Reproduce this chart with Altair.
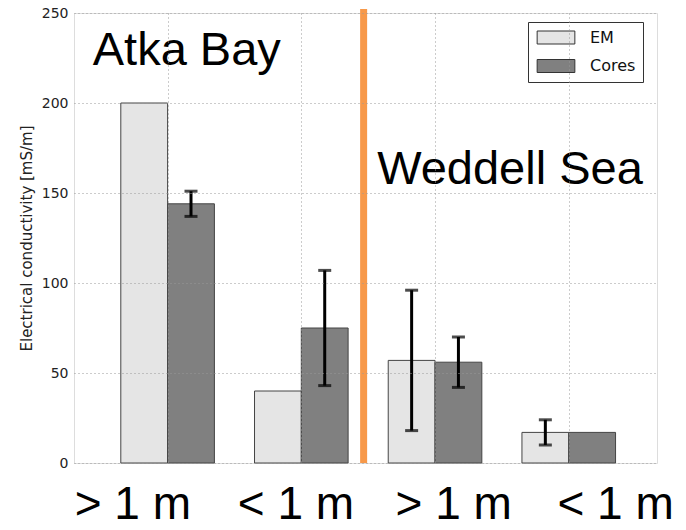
import altair as alt
import pandas as pd

# ---- data ----
group_pos = [0, 1, 2, 3]
group_labels = ["> 1 m", "< 1 m", "> 1 m", "< 1 m"]
label_pos = [-0.26, 0.96, 2.14, 3.35]
em_values = [200, 40, 57, 17]
cores_values = [144, 75, 56, 17]
em_err_lo = [None, None, 18, 10]
em_err_hi = [None, None, 96, 24]
cores_err_lo = [137, 43, 42, None]
cores_err_hi = [151, 107, 70, None]
series = ["EM", "Cores"]
series_colors = ["#e5e5e5", "#808080"]
divider_x = [1.466]
regions = ["Atka Bay", "Weddell Sea"]
region_x = [-0.56, 1.567]
region_y = [221, 155]

bar_w = 0.35

rows = []
for i, g in enumerate(group_pos):
    rows.append({"series": "EM", "x0": g - bar_w, "x1": g, "xc": g - bar_w / 2,
                 "v": em_values[i], "lo": em_err_lo[i], "hi": em_err_hi[i]})
    rows.append({"series": "Cores", "x0": g, "x1": g + bar_w, "xc": g + bar_w / 2,
                 "v": cores_values[i], "lo": cores_err_lo[i], "hi": cores_err_hi[i]})
df = pd.DataFrame(rows)
err = df.dropna(subset=["lo"])

xscale = alt.Scale(domain=[-0.70, 3.66], nice=False, zero=False)
yscale = alt.Scale(domain=[0, 250], nice=False)

base = alt.Chart(df)

bars = base.mark_bar(stroke="#444444", strokeWidth=1, opacity=1).encode(
    x=alt.X("x0:Q", scale=xscale,
            axis=alt.Axis(values=group_pos, labels=False, ticks=False, domain=False,
                          title=None, grid=True, gridDash=[1, 3], gridColor="#999999",
                          gridWidth=1, zindex=1)),
    x2="x1:Q",
    y=alt.Y("v:Q", scale=yscale,
            axis=alt.Axis(values=[0, 50, 100, 150, 200, 250], ticks=False, domain=False,
                          title="Electrical conductivity [mS/m]", titleFont="DejaVu Sans",
                          titleFontSize=15, titleFontWeight="normal", titleColor="#222222",
                          titlePadding=7, labelFont="DejaVu Sans", labelFontSize=14,
                          labelColor="#222222", labelPadding=6, grid=True,
                          gridDash=[1, 3], gridColor="#999999", gridWidth=1, zindex=1)),
    y2=alt.datum(0),
    fill=alt.Fill("series:N", scale=alt.Scale(domain=series, range=series_colors),
                  legend=alt.Legend(title=None, orient="none", legendX=454, legendY=9,
                                    symbolType="M-2.9,-1H2.9V1H-2.9Z", symbolSize=169,
                                    symbolOffset=12.5, labelOffset=26, padding=7.5,
                                    rowPadding=10.5, labelFont="DejaVu Sans",
                                    labelFontSize=16, labelColor="#111111",
                                    symbolStrokeColor="#333333", symbolStrokeWidth=1,
                                    symbolOpacity=1, strokeColor="#333333",
                                    fillColor="white")),
)

err_rule = alt.Chart(err).mark_rule(color="black", strokeWidth=3).encode(
    x=alt.X("xc:Q", scale=xscale), y=alt.Y("lo:Q", scale=yscale), y2="hi:Q")
cap_lo = alt.Chart(err).mark_tick(color="black", thickness=3, size=13,
                                  orient="horizontal").encode(
    x=alt.X("xc:Q", scale=xscale), y=alt.Y("lo:Q", scale=yscale))
cap_hi = alt.Chart(err).mark_tick(color="black", thickness=3, size=13,
                                  orient="horizontal").encode(
    x=alt.X("xc:Q", scale=xscale), y=alt.Y("hi:Q", scale=yscale))

divider = alt.Chart(pd.DataFrame({"x": divider_x})).mark_rule(
    color="#f7994a", strokeWidth=7).encode(
    x=alt.X("x:Q", scale=xscale), y=alt.value(-4), y2=alt.value(450))

region_text = alt.Chart(pd.DataFrame({"t": regions, "x": region_x, "y": region_y})).mark_text(
    font="Liberation Sans", fontSize=47, align="left", baseline="alphabetic",
    color="black").encode(
    x=alt.X("x:Q", scale=xscale), y=alt.Y("y:Q", scale=yscale), text="t:N")

xlabels = alt.Chart(pd.DataFrame({"t": group_labels, "x": label_pos})).mark_text(
    font="Liberation Sans", fontSize=46, align="center", baseline="alphabetic",
    color="black").encode(
    x=alt.X("x:Q", scale=xscale), y=alt.value(506), text="t:N")

chart = alt.layer(bars, err_rule, cap_lo, cap_hi, divider, region_text, xlabels).properties(
    width=583, height=450,
    autosize=alt.AutoSizeParams(type="none"),
    padding={"left": 66, "top": 5, "right": 21, "bottom": 59},
).configure_view(stroke="#444444", strokeWidth=1).configure(background="white")

chart.save("out.html", embed_options={"renderer": "svg", "actions": False})
